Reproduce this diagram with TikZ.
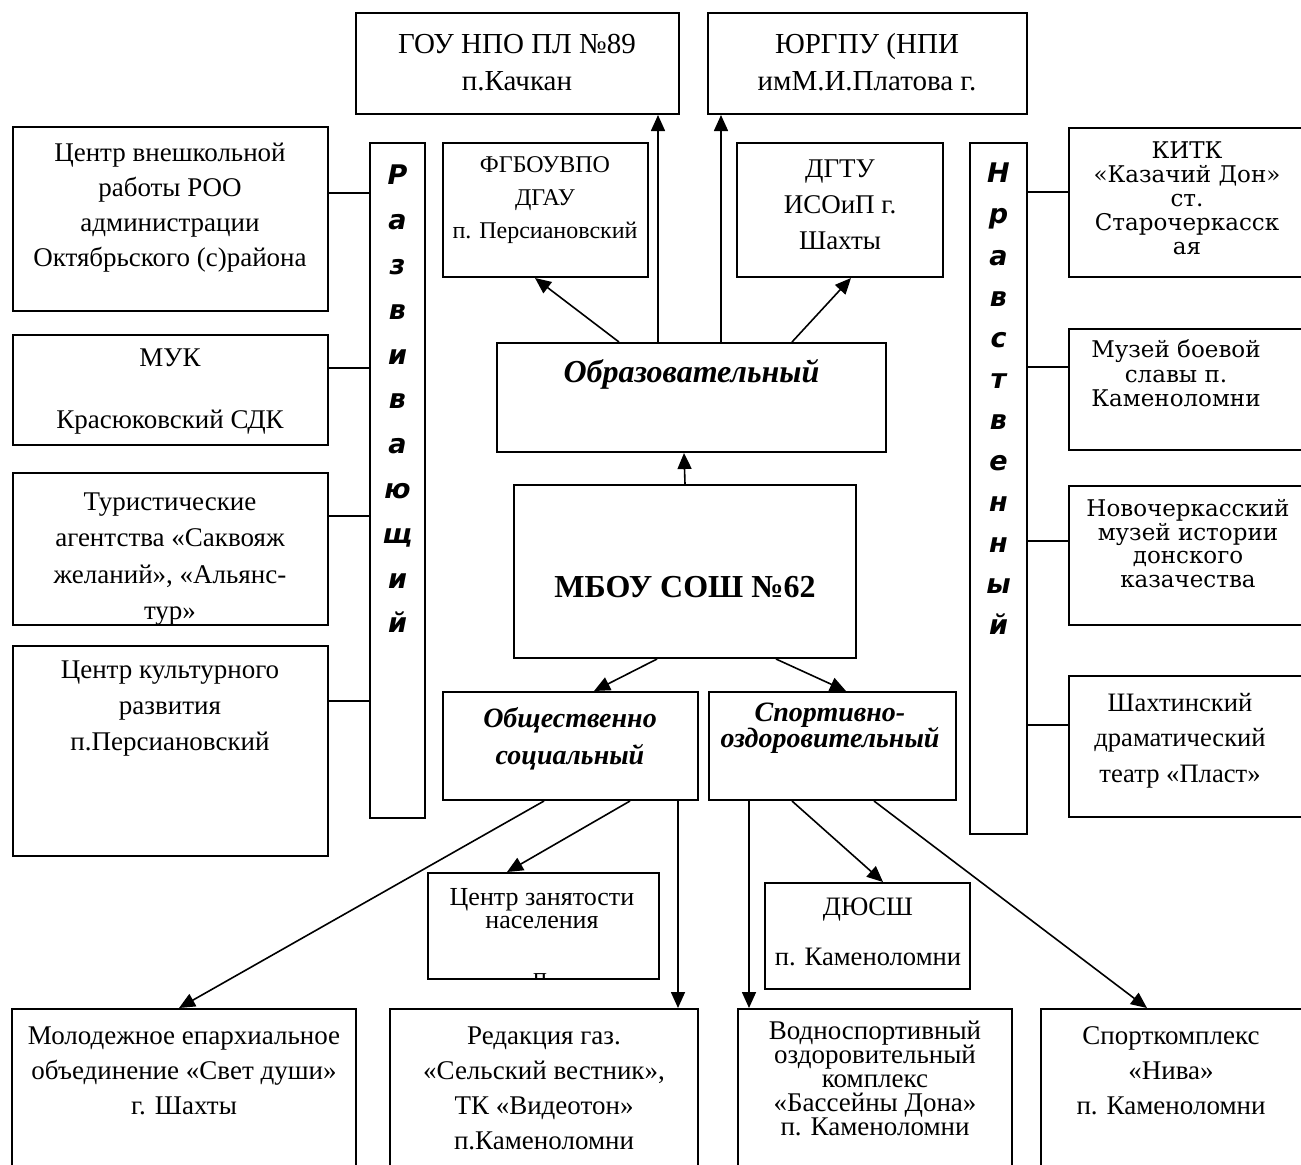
\documentclass[tikz,border=0pt]{standalone}
\usepackage{fontspec}
\setmainfont{Liberation Serif}
\newfontfamily\wideserif{DejaVu Serif}
\newfontfamily\barsans{DejaVu Sans}
\usetikzlibrary{fit,arrows.meta}
\newcommand\myfs[2]{\fontsize{#1}{#2}\selectfont\lineskiplimit=-30pt\relax}
\begin{document}
\begin{tikzpicture}[x=0.5pt,y=-0.5pt,
  box/.style={draw,line width=1pt,inner sep=0pt},
  conn/.style={line width=0.8pt},
  arr/.style={line width=0.8pt,-{Triangle[length=8pt,width=7pt]}},
  txt/.style={align=center,inner sep=0pt},
  bartxt/.style={align=center,inner sep=0pt}]
\useasboundingbox (0,0) rectangle (1301,1164);
\clip (0,0) rectangle (1301,1164);

% ---------- boxes ----------
\node[box,fit={(356,13) (679,114)}] (gou) {};
\node[box,fit={(708,13) (1027,114)}] (yur) {};
\node[box,fit={(443,143) (648,277)}] (fgbou) {};
\node[box,fit={(737,143) (943,277)}] (dgtu) {};
\node[box,fit={(370,143) (425,818)}] (razv) {};
\node[box,fit={(970,143) (1027,834)}] (nrav) {};
\node[box,fit={(13,127) (328,311)}] (cvr) {};
\node[box,fit={(13,335) (328,445)}] (muk) {};
\node[box,fit={(13,473) (328,625)}] (tur) {};
\node[box,fit={(13,646) (328,856)}] (ckr) {};
\node[box,fit={(1069,128) (1330,277)}] (kitk) {};
\node[box,fit={(1069,329) (1330,450)}] (muzey) {};
\node[box,fit={(1069,486) (1330,625)}] (novoch) {};
\node[box,fit={(1069,676) (1330,817)}] (shakht) {};
\node[box,fit={(497,343) (886,452)}] (obr) {};
\node[box,fit={(514,485) (856,658)}] (mbou) {};
\node[box,fit={(443,692) (698,800)}] (obsh) {};
\node[box,fit={(709,692) (956,800)}] (sport) {};
\node[box,fit={(428,873) (659,979)}] (czn) {};
\node[box,fit={(765,883) (970,989)}] (dyussh) {};
\node[box,fit={(12,1009) (356,1200)}] (molod) {};
\node[box,fit={(390,1009) (698,1200)}] (red) {};
\node[box,fit={(738,1009) (1012,1200)}] (vodn) {};
\node[box,fit={(1041,1009) (1330,1200)}] (sportk) {};

% ---------- texts ----------
\node[txt,font=\myfs{14.5}{18.5}] (goutx) at (517,62.5) {ГОУ НПО ПЛ №89\\п.Качкан};
\node[txt,font=\myfs{14.5}{18.5}] (yurtx) at (867,62.5) {ЮРГПУ (НПИ\\имМ.И.Платова г.};
\node[txt,font=\myfs{12}{16.5}] (fgboutx) at (545,200) {ФГБОУВПО\\ДГАУ\\п. Персиановский};
\node[txt,font=\myfs{13.5}{18}] (dgtutx) at (840,205) {ДГТУ\\ИСОиП г.\\Шахты};
\node[bartxt,font={\barsans\bfseries\itshape\myfs{13.5}{22.4}}] (razvtx) at (397.5,399) {Р\\а\\з\\в\\и\\в\\а\\ю\\щ\\и\\й};
\node[bartxt,font={\barsans\bfseries\itshape\myfs{13.5}{20.55}}] (nravtx) at (998.5,399) {Н\\р\\а\\в\\с\\т\\в\\е\\н\\н\\ы\\й};
\node[txt,font=\myfs{13.5}{17.5}] (cvrtx) at (170,207.5) {Центр внешкольной\\работы РОО\\администрации\\Октябрьского (с)района};
\node[txt,font=\myfs{13.5}{31}] (muktx) at (170,392) {МУК\\Красюковский СДК};
\begin{scope}
\clip (13,473) rectangle (328,624);
\node[txt,font=\myfs{13.5}{18.3}] (turtx) at (170,559) {Туристические\\агентства «Саквояж\\желаний», «Альянс-\\тур»};
\end{scope}
\node[txt,font=\myfs{13.5}{18}] (ckrtx) at (170,709) {Центр культурного\\развития\\п.Персиановский};
\node[txt,font={\wideserif\myfs{11.5}{12}}] (kitktx) at (1187,198) {КИТК\\«Казачий Дон»\\ст.\\Старочеркасск\\ая};
\node[txt,font={\wideserif\myfs{11.5}{12.25}}] (muzeytx) at (1176,373.5) {Музей боевой\\славы п.\\Каменоломни};
\node[txt,font={\wideserif\myfs{11.5}{11.8}}] (novochtx) at (1188,543.5) {Новочеркасский\\музей истории\\донского\\казачества};
\node[txt,font=\myfs{13.3}{17.75}] (shakhttx) at (1180,740.5) {Шахтинский\\драматический\\театр «Пласт»};
\node[txt,font={\bfseries\itshape\myfs{16}{18}}] (obrtx) at (691.5,374) {Образовательный};
\node[txt,font={\bfseries\myfs{16}{19}}] (mboutx) at (685,587) {МБОУ СОШ №62};
\node[txt,font={\bfseries\itshape\myfs{14}{18.5}}] (obshtx) at (570,738.5) {Общественно\\социальный};
\node[txt,font={\bfseries\itshape\myfs{14}{13.2}}] (sporttx) at (830,728) {Спортивно-\\оздоровительный};
\node[txt,font=\myfs{13}{11.7}] (cznt) at (542,908.5) {Центр занятости\\населения};
\begin{scope}
\clip (429,874) rectangle (658,978);
\node[txt,font=\myfs{13}{15},anchor=base] (czntp) at (540,985) {п};
\end{scope}
\node[txt,font=\myfs{13.3}{25}] (dyusshtx) at (868,932) {ДЮСШ\\п. Каменоломни};
\node[txt,font=\myfs{13.5}{17.5}] (molodtx) at (184,1071) {Молодежное епархиальное\\объединение «Свет души»\\г. Шахты};
\node[txt,font=\myfs{13.5}{17.5}] (redtx) at (544,1088.5) {Редакция газ.\\«Сельский вестник»,\\ТК «Видеотон»\\п.Каменоломни};
\node[txt,font=\myfs{13.5}{12}] (vodntx) at (875,1078) {Водноспортивный\\оздоровительный\\комплекс\\«Бассейны Дона»\\п. Каменоломни};
\node[txt,font=\myfs{13.5}{17.5}] (sportktx) at (1171,1071) {Спорткомплекс\\«Нива»\\п. Каменоломни};

% ---------- arrows ----------
\draw[arr] (mbou.north) -- ([xshift=94pt]obr.south west);
\draw[arr] ([xshift=61.5pt]obr.north west) -- ([xshift=46.5pt]fgbou.south west);
\draw[arr] ([xshift=148pt]obr.north west) -- ([xshift=57.5pt]dgtu.south west);
\draw[arr] ([xshift=81pt]obr.north west) -- ([xshift=151.5pt]gou.south west);
\draw[arr] ([xshift=112.5pt]obr.north west) -- ([xshift=7pt]yur.south west);
\draw[arr] ([xshift=72pt]mbou.south west) -- ([xshift=76pt]obsh.north west);
\draw[arr] ([xshift=131.5pt]mbou.south west) -- ([xshift=69pt]sport.north west);
\draw[arr] ([xshift=94pt]obsh.south west) -- ([xshift=40pt]czn.north west);
\draw[arr] ([xshift=51pt]obsh.south west) -- ([xshift=84pt]molod.north west);
\draw[arr] ([xshift=118pt]obsh.south west) -- ([xshift=144.5pt]red.north west);
\draw[arr] ([xshift=20.5pt]sport.south west) -- ([xshift=6pt]vodn.north west);
\draw[arr] ([xshift=42pt]sport.south west) -- ([xshift=59.5pt]dyussh.north west);
\draw[arr] ([xshift=83pt]sport.south west) -- ([xshift=53.5pt]sportk.north west);

% ---------- side connectors ----------
\coordinate (l1) at ([yshift=-33.5pt]cvr.north east);
\coordinate (l2) at ([yshift=-17pt]muk.north east);
\coordinate (l3) at ([yshift=-22pt]tur.north east);
\coordinate (l4) at ([yshift=-28pt]ckr.north east);
\draw[conn] (l1) -- (l1 -| razv.west);
\draw[conn] (l2) -- (l2 -| razv.west);
\draw[conn] (l3) -- (l3 -| razv.west);
\draw[conn] (l4) -- (l4 -| razv.west);
\coordinate (r1) at ([yshift=-32.5pt]kitk.north west);
\coordinate (r2) at ([yshift=-19.5pt]muzey.north west);
\coordinate (r3) at ([yshift=-28pt]novoch.north west);
\coordinate (r4) at ([yshift=-25pt]shakht.north west);
\draw[conn] (r1) -- (r1 -| nrav.east);
\draw[conn] (r2) -- (r2 -| nrav.east);
\draw[conn] (r3) -- (r3 -| nrav.east);
\draw[conn] (r4) -- (r4 -| nrav.east);
\end{tikzpicture}
\end{document}
